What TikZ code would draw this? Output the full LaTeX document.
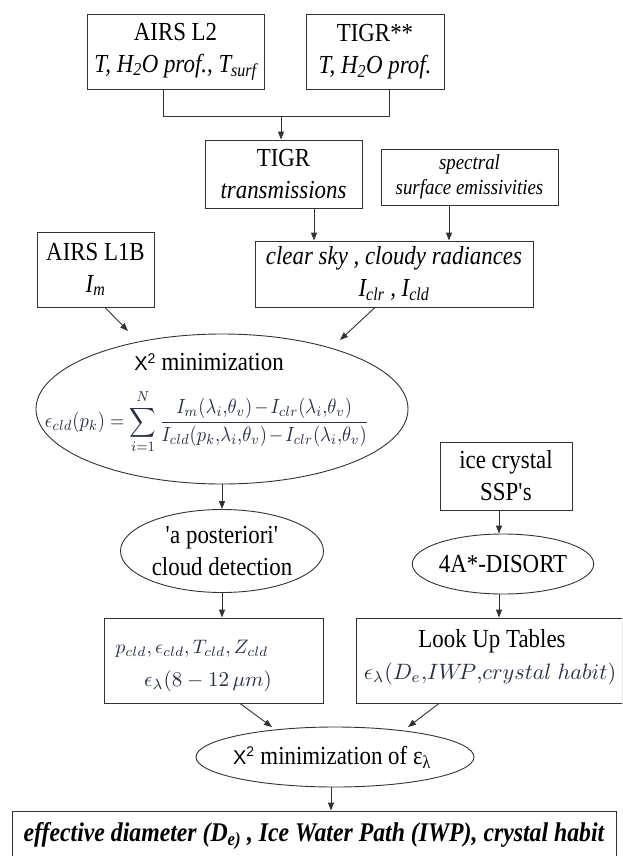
\documentclass[tikz,border=0pt]{standalone}
\usepackage{fontspec}
\setmainfont{Liberation Serif}[FakeStretch=0.88]
\newfontfamily\arialf{Liberation Sans}
\usetikzlibrary{shapes.geometric,arrows.meta}
\definecolor{linec}{RGB}{50,50,50}
\definecolor{mathc}{RGB}{40,48,72}
\newcommand{\chisq}{{\arialf\fontsize{20}{24}\selectfont X\textsuperscript{2}}}
\newcommand{\mainsz}{\fontsize{26}{32}\selectfont}
\newcommand{\mth}[2]{\scalebox{#1}{\fontsize{10}{12}\selectfont$#2$}}
\begin{document}
\begin{tikzpicture}[x=1pt,y=-1pt,
  box/.style={draw=linec, line width=0.9pt, inner sep=0pt, align=center, font=\mainsz},
  ell/.style={draw=linec, line width=0.9pt, ellipse, inner sep=0pt, align=center, font=\mainsz},
  txt/.style={inner sep=0pt, align=center, font=\mainsz},
  ln/.style={draw=linec, line width=0.9pt},
  arr/.style={draw=linec, line width=0.9pt, -{Triangle[length=8pt,width=6pt]}}]
\useasboundingbox (0,0) rectangle (622,856);
\clip (0,0) rectangle (622,856);

% top boxes
\node[box, minimum width=177pt, minimum height=75pt] (airsl2) at (175.5,51.5)
  {AIRS L2\\ \textit{T, H\textsubscript{2}O prof., T\textsubscript{surf}}};
\node[box, minimum width=138pt, minimum height=75pt] (tigr2) at (375,51.5)
  {TIGR**\\ \textit{T, H\textsubscript{2}O prof.}};
\node[box, minimum width=157pt, minimum height=68pt] (tigr) at (283.5,174)
  {TIGR\\ \textit{transmissions}};
\node[box, font=\fontsize{21.5}{25}\selectfont, minimum width=177pt, minimum height=56pt] (spec) at (469.5,177)
  {\textit{spectral}\\ \textit{surface emissivities}};
\node[box, minimum width=278pt, minimum height=66pt] (clear) at (394,274)
  {\textit{clear sky , cloudy radiances}\\ \textit{I\textsubscript{clr} , I\textsubscript{cld}}};
\node[box, minimum width=117pt, minimum height=75pt] (l1b) at (95.5,269.5)
  {AIRS L1B\\ \textit{I\textsubscript{m}}};

% join connector
\coordinate (jl) at (163,116);
\coordinate (jr) at (389,116);
\coordinate (jm) at (281,116);
\draw[ln] (airsl2.south -| jl) -- (jl) -- (jr) -- (tigr2.south -| jr);
\draw[arr] (jm) -- (tigr.north -| jm);

\coordinate (ta) at (314,0);
\coordinate (tb) at (449,0);
\draw[arr] (tigr.south -| ta) -- (clear.north -| ta);
\draw[arr] (spec.south -| tb) -- (clear.north -| tb);

% first minimization
\node[ell, minimum width=372pt, minimum height=150pt] (chi1) at (222,409) {};
\node[txt] (chi1a) at (209,362) {\chisq\ minimization};
\node[txt] (chi1b) at (207,422) {\color{mathc}\resizebox*{324pt}{64pt}{\fontsize{10}{12}\selectfont$\displaystyle
  \epsilon_{cld}(p_k)=\sum_{i=1}^{N}\frac{I_m(\lambda_i{,}\theta_v)\mkern-2mu-\mkern-2mu I_{clr}(\lambda_i{,}\theta_v)}{I_{cld}(p_k{,}\lambda_i{,}\theta_v)\mkern-2mu-\mkern-2mu I_{clr}(\lambda_i{,}\theta_v)}$}};

\coordinate (s1) at (105,0);
\coordinate (e1) at (128,331);
\draw[arr] (l1b.south -| s1) -- (e1);
\coordinate (s2) at (375,0);
\coordinate (e2) at (340,340);
\draw[arr] (clear.south -| s2) -- (e2);

% cloud detection
\node[ell, minimum width=203pt, minimum height=83pt] (cloud) at (222,551)
  {\textquotesingle a posteriori\textquotesingle\\ cloud detection};
\draw[arr] (chi1.south) -- (cloud.north);

\node[box, minimum width=219pt, minimum height=85pt] (pcld) at (213.5,660.5) {};
\node[txt, text=mathc] (pcld1) at (192,649) {\mth{1.95}{p_{cld},\epsilon_{cld},T_{cld},Z_{cld}}};
\node[txt, text=mathc] (pcld2) at (208,681) {\mth{2.1}{\epsilon_\lambda(8-12\,\mu m)}};
\draw[arr] (cloud.south) -- (pcld.north -| cloud.south);

% right branch
\node[box, minimum width=132pt, minimum height=68pt] (ice) at (506,476)
  {ice crystal\\ SSP\textquotesingle s};
\node[ell, minimum width=160pt, minimum height=60pt] (disort) at (503,564) {4A*-DISORT};
\node[box, minimum width=266pt, minimum height=85pt] (lut) at (489,660.5) {};
\node[txt] (lut1) at (492,641) {Look Up Tables};
\node[txt, text=mathc] (lut2) at (490,674) {\mth{2.22}{\epsilon_\lambda(D_e{,}IW\!P{,}crystal\;habit)}};
\coordinate (ti) at (499,0);
\draw[arr] (ice.south -| ti) -- (disort.north -| ti);
\draw[arr] (disort.south -| ti) -- (lut.north -| ti);

% second minimization
\node[ell, minimum width=278pt, minimum height=60pt] (chi2) at (335,757) {};
\node[txt] (chi2t) at (332,757) {\chisq\ minimization of ε\textsubscript{λ}};
\coordinate (s3) at (240,0);
\coordinate (e3) at (272,727);
\draw[arr] (pcld.south -| s3) -- (e3);
\coordinate (s4) at (439,0);
\coordinate (e4) at (408,727);
\draw[arr] (lut.south -| s4) -- (e4);

% final result
\node[box, minimum width=604pt, minimum height=50pt] (final) at (314,836)
  {\fontsize{27}{30}\selectfont\bfseries\itshape effective diameter (D\textsubscript{e)} , Ice Water Path (IWP), crystal habit};
\coordinate (tf) at (331,0);
\draw[arr] (chi2.south -| tf) -- (final.north -| tf);
\end{tikzpicture}
\end{document}
